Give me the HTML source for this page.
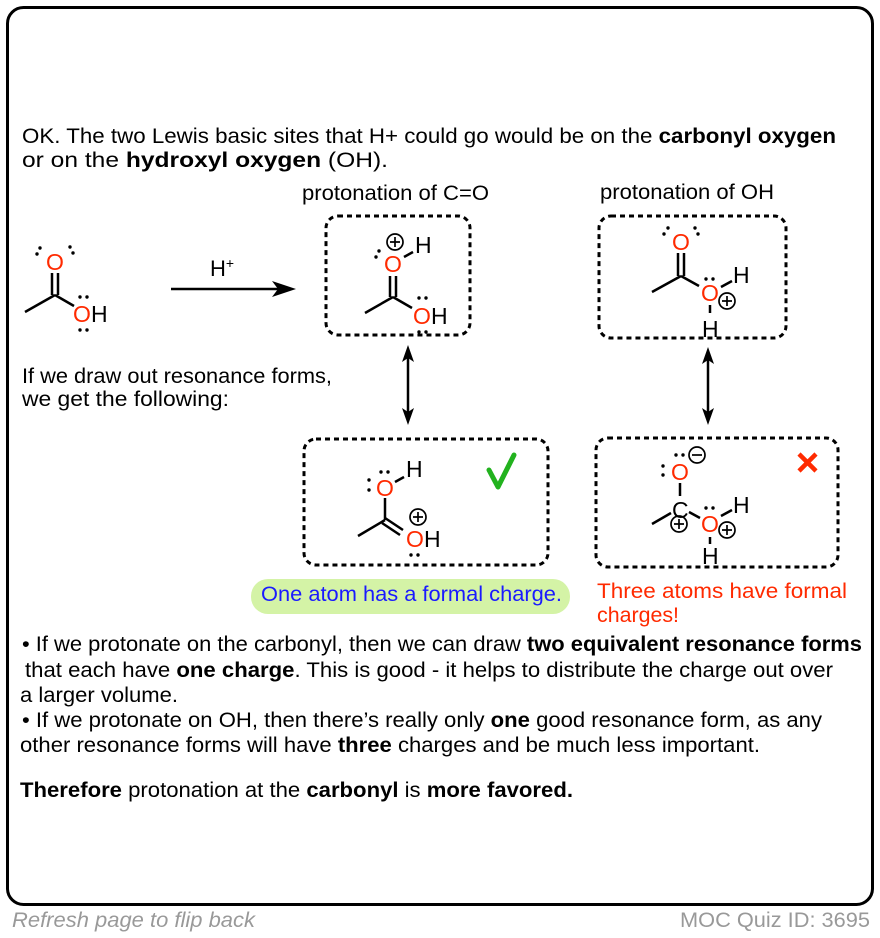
<!DOCTYPE html>
<html><head><meta charset="utf-8"><style>
html,body{margin:0;padding:0;background:#fff;width:880px;height:938px;overflow:hidden}
svg{display:block}
text{font-family:"Liberation Sans",Arial,sans-serif}
</style></head><body>
<svg width="880" height="938" viewBox="0 0 880 938" xmlns="http://www.w3.org/2000/svg">
<rect x="7.5" y="7.5" width="865" height="897" rx="16" fill="#fff" stroke="#000" stroke-width="3"/>

<g font-size="21" fill="#000">
<text x="22" y="143" textLength="814" lengthAdjust="spacingAndGlyphs">OK. The two Lewis basic sites that H+ could go would be on the <tspan font-weight="bold">carbonyl oxygen</tspan></text>
<text x="22" y="167" textLength="366" lengthAdjust="spacingAndGlyphs">or on the <tspan font-weight="bold">hydroxyl oxygen</tspan> (OH).</text>
<text x="302" y="200" textLength="187" lengthAdjust="spacingAndGlyphs">protonation of C=O</text>
<text x="600" y="199" textLength="174" lengthAdjust="spacingAndGlyphs">protonation of OH</text>
<text x="22" y="383" textLength="310" lengthAdjust="spacingAndGlyphs">If we draw out resonance forms,</text>
<text x="22" y="406" textLength="207" lengthAdjust="spacingAndGlyphs">we get the following:</text>

<text x="22" y="651" textLength="840" lengthAdjust="spacingAndGlyphs">• If we protonate on the carbonyl, then we can draw <tspan font-weight="bold">two equivalent resonance forms</tspan></text>
<text x="25" y="677" textLength="808" lengthAdjust="spacingAndGlyphs">that each have <tspan font-weight="bold">one charge</tspan>. This is good - it helps to distribute the charge out over</text>
<text x="20" y="702" textLength="158" lengthAdjust="spacingAndGlyphs">a larger volume.</text>
<text x="22" y="727" textLength="800" lengthAdjust="spacingAndGlyphs">• If we protonate on OH, then there’s really only <tspan font-weight="bold">one</tspan> good resonance form, as any</text>
<text x="20" y="752" textLength="740" lengthAdjust="spacingAndGlyphs">other resonance forms will have <tspan font-weight="bold">three</tspan> charges and be much less important.</text>
<text x="20" y="797" textLength="553" lengthAdjust="spacingAndGlyphs"><tspan font-weight="bold">Therefore</tspan> protonation at the <tspan font-weight="bold">carbonyl</tspan> is <tspan font-weight="bold">more favored.</tspan></text>
</g>
<text x="12" y="927" font-size="21" font-style="italic" fill="#999" textLength="243" lengthAdjust="spacingAndGlyphs">Refresh page to flip back</text>
<text x="680" y="927" font-size="21" fill="#999" textLength="190" lengthAdjust="spacingAndGlyphs">MOC Quiz ID: 3695</text>

<!-- dashed boxes -->
<g fill="none" stroke="#000" stroke-width="3" stroke-dasharray="5,4">
<rect x="326" y="216" width="144" height="119" rx="12"/>
<rect x="599" y="216" width="187" height="122" rx="12"/>
<rect x="304" y="439" width="244" height="126" rx="12"/>
<rect x="596" y="438" width="242" height="129" rx="12"/>
</g>

<!-- reaction arrow -->
<line x1="171" y1="289" x2="284" y2="289" stroke="#000" stroke-width="2.5"/>
<polygon points="296,289 272,281 278,289 272,297" fill="#000"/>
<text x="210" y="276" font-size="22">H<tspan font-size="14" dy="-8">+</tspan></text>

<!-- double-headed arrows -->
<g stroke="#000" stroke-width="2.5"><line x1="408" y1="355" x2="408" y2="415"/><line x1="708" y1="357" x2="708" y2="415"/></g>
<g fill="#000">
<polygon points="408,345 402,362 408,358 414,362"/><polygon points="408,425 402,408 408,412 414,408"/>
<polygon points="708,347 702,364 708,360 714,364"/><polygon points="708,425 702,408 708,412 714,408"/>
</g>

<g stroke="#000" stroke-width="2.5" fill="none">
<line x1="25" y1="312" x2="55" y2="295"/><line x1="55" y1="295" x2="74" y2="306"/>
<line x1="52" y1="273" x2="52" y2="295"/><line x1="58" y1="273" x2="58" y2="295"/>
<line x1="365" y1="313" x2="393" y2="297"/><line x1="393" y1="297" x2="412" y2="308"/>
<line x1="390" y1="276" x2="390" y2="297"/><line x1="396" y1="276" x2="396" y2="297"/>
<line x1="404" y1="257" x2="413" y2="252"/>
<line x1="652" y1="292" x2="681" y2="276"/><line x1="681" y1="276" x2="699" y2="286"/>
<line x1="678" y1="253" x2="678" y2="276"/><line x1="684" y1="253" x2="684" y2="276"/>
<line x1="721" y1="287" x2="732" y2="281"/><line x1="710" y1="305" x2="710" y2="313"/>
<line x1="358" y1="536" x2="385" y2="520"/><line x1="385" y1="498" x2="385" y2="520"/>
<line x1="385" y1="518" x2="403" y2="530"/><line x1="382" y1="523" x2="400" y2="535"/>
<line x1="395" y1="482" x2="404" y2="477"/>
<line x1="652" y1="524" x2="671" y2="513"/><line x1="680" y1="483" x2="680" y2="496"/>
<line x1="689" y1="512" x2="700" y2="518"/><line x1="721" y1="516" x2="732" y2="510"/><line x1="710" y1="537" x2="710" y2="544"/>
</g>

<g font-size="23" fill="#ff2a00">
<text x="55" y="270" text-anchor="middle">O</text>
<text x="82" y="322" text-anchor="middle">O</text>
<text x="393" y="272" text-anchor="middle">O</text>
<text x="422" y="324" text-anchor="middle">O</text>
<text x="681" y="250" text-anchor="middle">O</text>
<text x="710" y="301" text-anchor="middle">O</text>
<text x="385" y="496" text-anchor="middle">O</text>
<text x="415" y="547" text-anchor="middle">O</text>
<text x="680" y="480" text-anchor="middle">O</text>
<text x="710" y="532" text-anchor="middle">O</text>
</g>
<g font-size="23" fill="#000">
<text x="91" y="322">H</text>
<text x="415" y="253">H</text>
<text x="431" y="324">H</text>
<text x="733" y="283">H</text><text x="702" y="337">H</text>
<text x="406" y="477">H</text>
<text x="424" y="547">H</text>
<text x="672" y="518">C</text>
<text x="733" y="513">H</text><text x="702" y="564">H</text>
</g>
<g fill="#000">
<circle cx="37" cy="254" r="1.7"/><circle cx="40" cy="248" r="1.7"/><circle cx="70" cy="247" r="1.7"/><circle cx="73" cy="253" r="1.7"/>
<circle cx="80" cy="297" r="1.7"/><circle cx="87" cy="297" r="1.7"/><circle cx="80" cy="330" r="1.7"/><circle cx="87" cy="330" r="1.7"/>
<circle cx="376" cy="257" r="1.7"/><circle cx="379" cy="251" r="1.7"/>
<circle cx="419" cy="298" r="1.7"/><circle cx="426" cy="298" r="1.7"/><circle cx="419" cy="332" r="1.7"/><circle cx="426" cy="332" r="1.7"/>
<circle cx="664" cy="234" r="1.7"/><circle cx="668" cy="228" r="1.7"/><circle cx="695" cy="228" r="1.7"/><circle cx="698" cy="234" r="1.7"/>
<circle cx="706" cy="279" r="1.7"/><circle cx="713" cy="279" r="1.7"/>
<circle cx="369" cy="480" r="1.7"/><circle cx="369" cy="490" r="1.7"/><circle cx="381" cy="472" r="1.7"/><circle cx="388" cy="472" r="1.7"/>
<circle cx="411" cy="555" r="1.7"/><circle cx="418" cy="555" r="1.7"/>
<circle cx="663" cy="466" r="1.7"/><circle cx="663" cy="475" r="1.7"/><circle cx="676" cy="455" r="1.7"/><circle cx="683" cy="455" r="1.7"/>
<circle cx="706" cy="508" r="1.7"/><circle cx="713" cy="508" r="1.7"/>
</g>
<g fill="none" stroke="#000" stroke-width="1.7">
<circle cx="395" cy="242" r="8"/><path d="M390 242h10M395 237v10"/>
<circle cx="727" cy="301" r="8"/><path d="M722 301h10M727 296v10"/>
<circle cx="418" cy="517" r="8"/><path d="M413 517h10M418 512v10"/>
<circle cx="697" cy="455" r="8"/><path d="M692 455h10"/>
<circle cx="679" cy="524" r="8"/><path d="M674 524h10M679 519v10"/>
<circle cx="727" cy="530" r="8"/><path d="M722 530h10M727 525v10"/>
</g>
<path d="M489 470 L498 487 L514 455" fill="none" stroke="#22b21e" stroke-width="5" stroke-linecap="round" stroke-linejoin="round"/>
<path d="M799 454 L816 471 M816 454 L799 471" stroke="#ff2a00" stroke-width="4.5"/>

<rect x="251" y="579" width="319" height="35" rx="17" fill="#d4f3a6"/>
<text x="261" y="601" font-size="21" fill="#1a1aff" textLength="301" lengthAdjust="spacingAndGlyphs">One atom has a formal charge.</text>
<text x="597" y="598" font-size="21" fill="#ff2a00" textLength="250" lengthAdjust="spacingAndGlyphs">Three atoms have formal</text>
<text x="597" y="622" font-size="21" fill="#ff2a00" textLength="82" lengthAdjust="spacingAndGlyphs">charges!</text>
</svg>
</body></html>
